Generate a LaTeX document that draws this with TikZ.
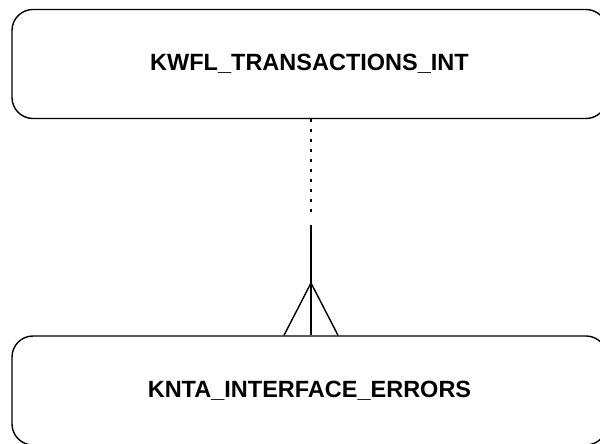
\documentclass[tikz,border=0pt]{standalone}
\usepackage{fontspec}
\setmainfont{Liberation Sans}
\usetikzlibrary{calc}
\begin{document}
\begin{tikzpicture}[x=1pt,y=1pt,
  entity/.style={draw,line width=1.4pt,rounded corners=21pt,minimum width=595pt,minimum height=109pt,inner sep=0pt,font=\fontsize{23.5}{27}\selectfont\bfseries},
  conn/.style={line width=1.4pt}]
\useasboundingbox (0,0) rectangle (600,444);
\clip (0,0) rectangle (600,444);
\node[entity] (top) at (309.5,380) {KWFL\_TRANSACTIONS\_INT};
\node[entity] (bot) at (309.5,53.5) {KNTA\_INTERFACE\_ERRORS};
\coordinate (c) at (311,0);
\coordinate (dotend) at (311,229);
\coordinate (solstart) at (311,219);
\coordinate (apex) at (311,161);
\draw[conn,dash pattern=on 2.5pt off 7.5pt] (top.south -| c) -- (dotend);
\draw[conn] (solstart) -- (bot.north -| c);
\draw[conn] ($(bot.north -| c)+(-27,0)$) -- (apex) -- ($(bot.north -| c)+(27,0)$);
\end{tikzpicture}
\end{document}
